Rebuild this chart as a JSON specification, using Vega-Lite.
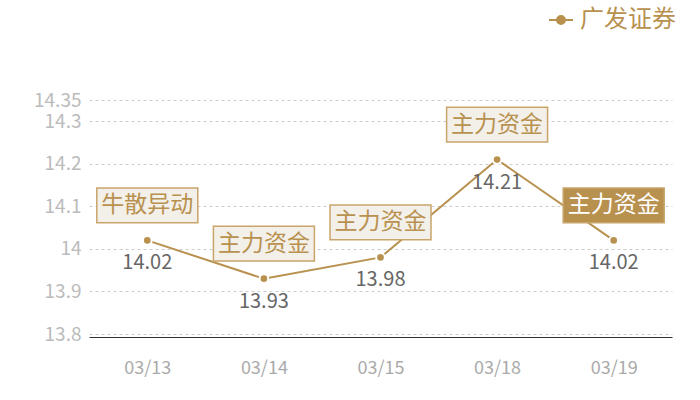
{
  "$schema": "https://vega.github.io/schema/vega-lite/v6.json",
  "width": 583,
  "height": 234,
  "autosize": {"type": "none"},
  "padding": {"left": 89, "top": 100, "right": 28, "bottom": 66},
  "background": "white",
  "config": {
    "font": "Noto Sans CJK SC",
    "view": {"stroke": null}
  },
  "data": {
    "values": [
      {"date": "03/13", "price": 14.02, "tag": "牛散异动", "series": "广发证券"},
      {"date": "03/14", "price": 13.93, "tag": "主力资金", "series": "广发证券"},
      {"date": "03/15", "price": 13.98, "tag": "主力资金", "series": "广发证券"},
      {"date": "03/18", "price": 14.21, "tag": "主力资金", "series": "广发证券"},
      {"date": "03/19", "price": 14.02, "tag": "主力资金", "series": "广发证券"}
    ]
  },
  "encoding": {
    "x": {
      "field": "date", "type": "ordinal", "title": null,
      "axis": {
        "labelAngle": 0, "labelFontSize": 18, "labelColor": "#aaaaaa",
        "labelPadding": 22, "ticks": false, "domainColor": "#333333",
        "domainWidth": 1.2, "offset": 3, "grid": false
      }
    },
    "y": {
      "field": "price", "type": "quantitative", "title": null,
      "scale": {"domain": [13.8, 14.35], "nice": false, "zero": false},
      "axis": {
        "values": [13.8, 13.9, 14, 14.1, 14.2, 14.3, 14.35],
        "labelExpr": "format(datum.value, '.4~g')",
        "labelFontSize": 19, "labelColor": "#bbbbbb", "ticks": false,
        "domain": false, "labelPadding": 8, "labelOverlap": false,
        "gridColor": "#cccccc", "gridDash": [3, 3], "gridWidth": 1
      }
    }
  },
  "layer": [
    {
      "mark": {"type": "line", "strokeWidth": 2},
      "encoding": {
        "color": {
          "field": "series", "type": "nominal",
          "scale": {"range": ["#b8914f"]},
          "legend": {
            "title": null, "orient": "none", "legendX": 459, "legendY": -93,
            "labelFontSize": 24, "labelColor": "#b8914f",
            "symbolType": "M-1,0H1M0.33,0A0.33,0.33 0 1,1 -0.33,0A0.33,0.33 0 1,1 0.33,0",
            "symbolSize": 576, "symbolStrokeWidth": 2,
            "symbolFillColor": "#b8914f", "symbolStrokeColor": "#b8914f",
            "labelOffset": 6
          }
        }
      }
    },
    {
      "mark": {"type": "point", "filled": true, "size": 75, "color": "#b8914f", "stroke": "white", "strokeWidth": 2, "opacity": 1}
    },
    {
      "mark": {
        "type": "point", "filled": true,
        "shape": "M-1,-0.345L1,-0.345L1,0.345L-1,0.345Z",
        "size": 10201, "yOffset": -35, "stroke": "#c9a56b",
        "strokeWidth": 1.5, "opacity": 1
      },
      "encoding": {
        "fill": {
          "condition": {"test": "datum.date === '03/19'", "value": "#b8914f"},
          "value": "#f3efe9"
        }
      }
    },
    {
      "mark": {"type": "text", "fontSize": 23, "yOffset": -35, "baseline": "middle", "align": "center"},
      "encoding": {
        "text": {"field": "tag"},
        "color": {
          "condition": {"test": "datum.date === '03/19'", "value": "#ffffff"},
          "value": "#b8914f"
        }
      }
    },
    {
      "mark": {"type": "text", "fontSize": 20, "yOffset": 23, "baseline": "middle", "align": "center", "color": "#666666"},
      "encoding": {
        "text": {"field": "price", "type": "quantitative", "format": ".2f"}
      }
    }
  ]
}
